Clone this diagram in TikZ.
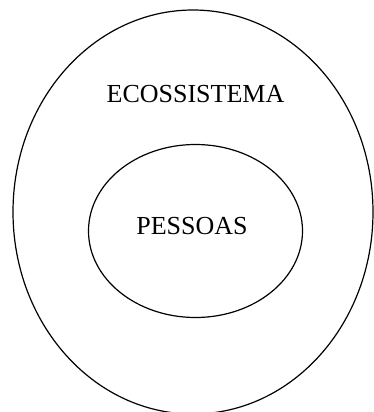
\documentclass[tikz,border=0pt]{standalone}
\usepackage{fontspec}
\setmainfont{Liberation Serif}
\begin{document}
\begin{tikzpicture}[x=1pt,y=-1pt,
  ring/.style={draw=black,line width=1.2pt},
  label/.style={font=\fontsize{26}{30}\selectfont,inner sep=0pt,anchor=center}]
  \useasboundingbox (0,0) rectangle (373,412);
  % outer and inner ellipses
  \draw[ring] (193,212) ellipse [x radius=180,y radius=202];
  \draw[ring] (195.5,231) ellipse [x radius=107,y radius=86.5];
  \node[label] (eco) at (195.5,94) {ECOSSISTEMA};
  \node[label] (pes) at (192,226) {PESSOAS};
\end{tikzpicture}
\end{document}
